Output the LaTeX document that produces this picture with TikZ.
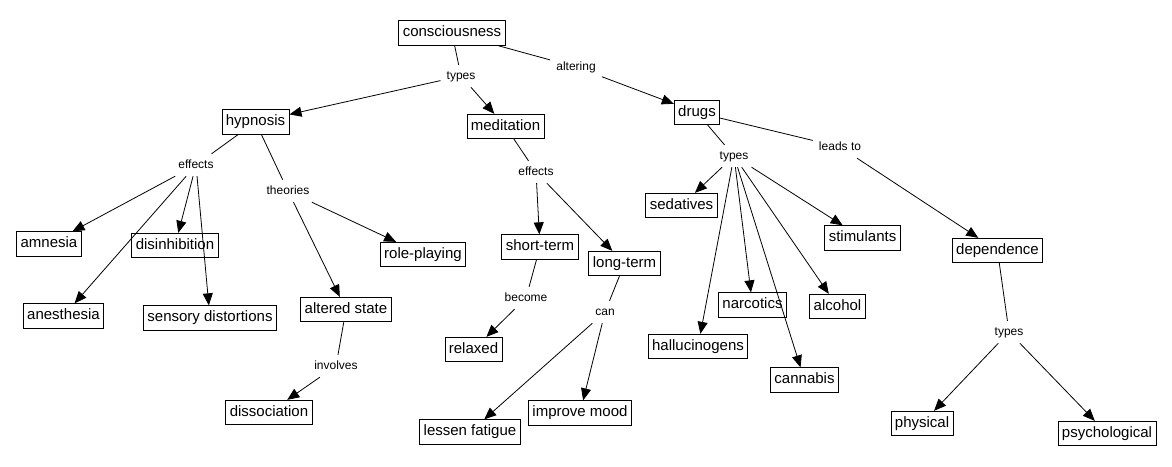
\documentclass[tikz,border=0pt]{standalone}
\usepackage{fontspec}
\setmainfont{Liberation Sans}
\usetikzlibrary{arrows.meta}
\begin{document}
\begin{tikzpicture}[x=1pt,y=-1pt,
  box/.style={draw, line width=0.8pt, inner xsep=4pt, inner ysep=5pt, text height=11pt, text depth=3.5pt, font=\fontsize{15}{18}\selectfont},
  lbl/.style={inner xsep=6pt, inner ysep=5pt, text height=9pt, text depth=3pt, font=\fontsize{12}{14}\selectfont},
  ln/.style={line width=0.8pt},
  arr/.style={line width=0.8pt, -{Triangle[length=12pt,width=10pt]}}]
\useasboundingbox (0,0) rectangle (1172,466);
% boxes
\node[box] (consciousness) at (452,33) {consciousness};
\node[box] (hypnosis) at (255.5,122) {hypnosis};
\node[box] (meditation) at (505.5,126.5) {meditation};
\node[box] (drugs) at (697,112.5) {drugs};
\node[box] (amnesia) at (49,244) {amnesia};
\node[box] (disinhibition) at (175,245.5) {disinhibition};
\node[box] (anesthesia) at (63.5,316) {anesthesia};
\node[box] (sensory) at (210,318) {sensory distortions};
\node[box] (roleplaying) at (423,254.5) {role-playing};
\node[box] (altered) at (346,309.5) {altered state};
\node[box] (dissociation) at (269,412.5) {dissociation};
\node[box] (shortterm) at (540,247) {short-term};
\node[box] (longterm) at (624.5,263.5) {long-term};
\node[box] (relaxed) at (473.5,349.5) {relaxed};
\node[box] (lessen) at (470,432) {lessen fatigue};
\node[box] (improve) at (580,413) {improve mood};
\node[box] (sedatives) at (681.5,205.5) {sedatives};
\node[box] (stimulants) at (862.5,238) {stimulants};
\node[box] (halluc) at (698,346.5) {hallucinogens};
\node[box] (narcotics) at (752.5,305) {narcotics};
\node[box] (alcohol) at (837.5,306.5) {alcohol};
\node[box] (cannabis) at (804.5,380) {cannabis};
\node[box] (dependence) at (997.5,250.5) {dependence};
\node[box] (physical) at (922,423.5) {physical};
\node[box] (psych) at (1107,433.5) {psychological};
% labels
\node[lbl] (types1) at (461,76) {types};
\node[lbl] (altering) at (576,67) {altering};
\node[lbl] (effects1) at (196,165) {effects};
\node[lbl] (theories) at (288,191) {theories};
\node[lbl] (involves) at (336,366) {involves};
\node[lbl] (effects2) at (536,172) {effects};
\node[lbl] (become) at (526,298) {become};
\node[lbl] (can) at (605,312) {can};
\node[lbl] (types2) at (734,156) {types};
\node[lbl] (leadsto) at (840,147) {leads to};
\node[lbl] (types3) at (1009,332) {types};
% connectors
\draw[ln] (consciousness) -- (types1);
\draw[arr] (types1) -- (hypnosis);
\draw[arr] (types1) -- (meditation);
\draw[ln] (consciousness) -- (altering);
\draw[arr] (altering) -- (drugs);
\draw[ln] (hypnosis) -- (effects1);
\draw[arr] (effects1) -- (amnesia);
\draw[arr] (effects1) -- (anesthesia);
\draw[arr] (effects1) -- (disinhibition);
\draw[arr] (effects1) -- (sensory);
\draw[ln] (hypnosis) -- (theories);
\draw[arr] (theories) -- (roleplaying);
\draw[arr] (theories) -- (altered);
\draw[ln] (altered) -- (involves);
\draw[arr] (involves) -- (dissociation);
\draw[ln] (meditation) -- (effects2);
\draw[arr] (effects2) -- (shortterm);
\draw[arr] (effects2) -- (longterm);
\draw[ln] (shortterm) -- (become);
\draw[arr] (become) -- (relaxed);
\draw[ln] (longterm) -- (can);
\draw[arr] (can) -- (lessen);
\draw[arr] (can) -- (improve);
\draw[ln] (drugs) -- (types2);
\draw[arr] (types2) -- (sedatives);
\draw[arr] (types2) -- (halluc);
\draw[arr] (types2) -- (narcotics);
\draw[arr] (types2) -- (cannabis);
\draw[arr] (types2) -- (alcohol);
\draw[arr] (types2) -- (stimulants);
\draw[ln] (drugs) -- (leadsto);
\draw[arr] (leadsto) -- (dependence);
\draw[ln] (dependence) -- (types3);
\draw[arr] (types3) -- (physical);
\draw[arr] (types3) -- (psych);
\end{tikzpicture}
\end{document}
